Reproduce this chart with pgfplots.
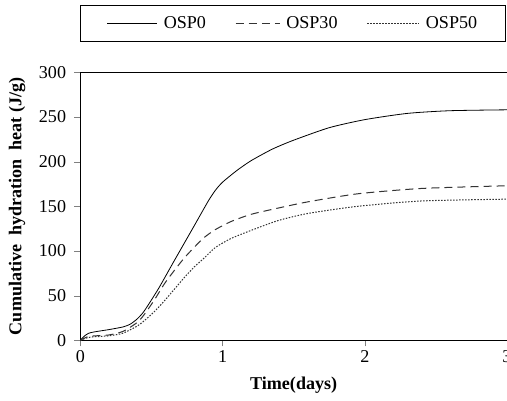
\documentclass[border=0pt]{standalone}
\usepackage{fontspec}
\setmainfont{Liberation Serif}
\usepackage{pgfplots}
\pgfplotsset{compat=1.18}
\pgfplotsset{
  limgA/.style={legend image code/.code={\draw[##1] (0pt,0pt) -- (50pt,0pt);}},
  limgB/.style={legend image code/.code={\draw[##1] (0pt,0pt) -- (44pt,0pt);}},
  limgC/.style={legend image code/.code={\draw[##1] (0pt,0pt) -- (52pt,0pt);}},
}
\begin{document}
\fontsize{18}{21}\selectfont
\begin{tikzpicture}[trim axis right]
\begin{axis}[
  scale only axis,
  width=425pt, height=267pt,
  xmin=0, xmax=3, ymin=0, ymax=300,
  xtick={0,1,2,3}, ytick={0,50,...,300},
  tick align=outside, tick pos=left,
  major tick length=6pt,
  /pgf/number format/assume math mode=true,
  tick label style={font=\fontsize{18}{21}\selectfont},
  yticklabel style={xshift=-2pt},
  xticklabel style={yshift=2pt},
  xlabel={\textbf{Time(days)}},
  ylabel={\textbf{Cumulative\ \ hydration\ \ heat (J/g)}},
  label style={font=\fontsize{18}{21}\selectfont},
  xlabel style={at={(axis description cs:0.5,0)}, anchor=center, yshift=-45pt},
  ylabel style={at={(axis description cs:0,0.5)}, anchor=center, yshift=63pt},
  axis line style={line width=0.8pt},
  legend columns=3,
  legend style={at={(0,1)}, yshift=30pt, anchor=south west, draw=black, line width=0.8pt,
    font=\fontsize{18}{21}\selectfont, inner xsep=26pt, inner ysep=9pt,
    /tikz/every odd column/.append style={column sep=4pt},
    /tikz/every even column/.append style={column sep=27pt}},
]
\addplot[black, line width=0.8pt, smooth, tension=0.4, limgA] coordinates {
(0,0) (0.03,5) (0.06,8) (0.1,9.5) (0.2,12) (0.3,15) (0.35,18) (0.4,24) (0.45,33)
(0.55,58) (0.66,89) (0.8,128) (0.9,156) (0.95,168) (1.0,177) (1.1,190) (1.2,201)
(1.35,214) (1.5,224) (1.75,238) (2.0,247) (2.3,254) (2.6,257) (3.0,258)};
\addlegendentry{OSP0}
\addplot[black!80, line width=1pt, dash pattern=on 8pt off 5pt, smooth, tension=0.4, limgB] coordinates {
(0,0) (0.05,4) (0.1,5) (0.2,6) (0.3,10) (0.4,20) (0.45,29) (0.52,45) (0.59,63)
(0.66,78) (0.73,92) (0.8,104) (0.87,115) (0.95,124) (1.06,133) (1.2,141) (1.39,148)
(1.6,155) (1.95,164) (2.4,170) (3.0,173)};
\addlegendentry{OSP30}
\addplot[black!80, line width=1pt, dash pattern=on 1.5pt off 1.5pt, smooth, tension=0.4, limgC] coordinates {
(0,0) (0.05,3) (0.1,4) (0.2,5) (0.3,8) (0.4,16) (0.45,22) (0.52,32) (0.59,44)
(0.66,57) (0.73,70) (0.8,82) (0.87,92) (0.95,104) (1.06,114) (1.2,123) (1.39,134)
(1.6,142) (1.95,150) (2.4,156) (3.0,158)};
\addlegendentry{OSP50}
\end{axis}
\path (current axis.south west) ++(-80pt,-60pt);
\path (current axis.north west) ++(0pt,72pt);
\end{tikzpicture}
\end{document}
